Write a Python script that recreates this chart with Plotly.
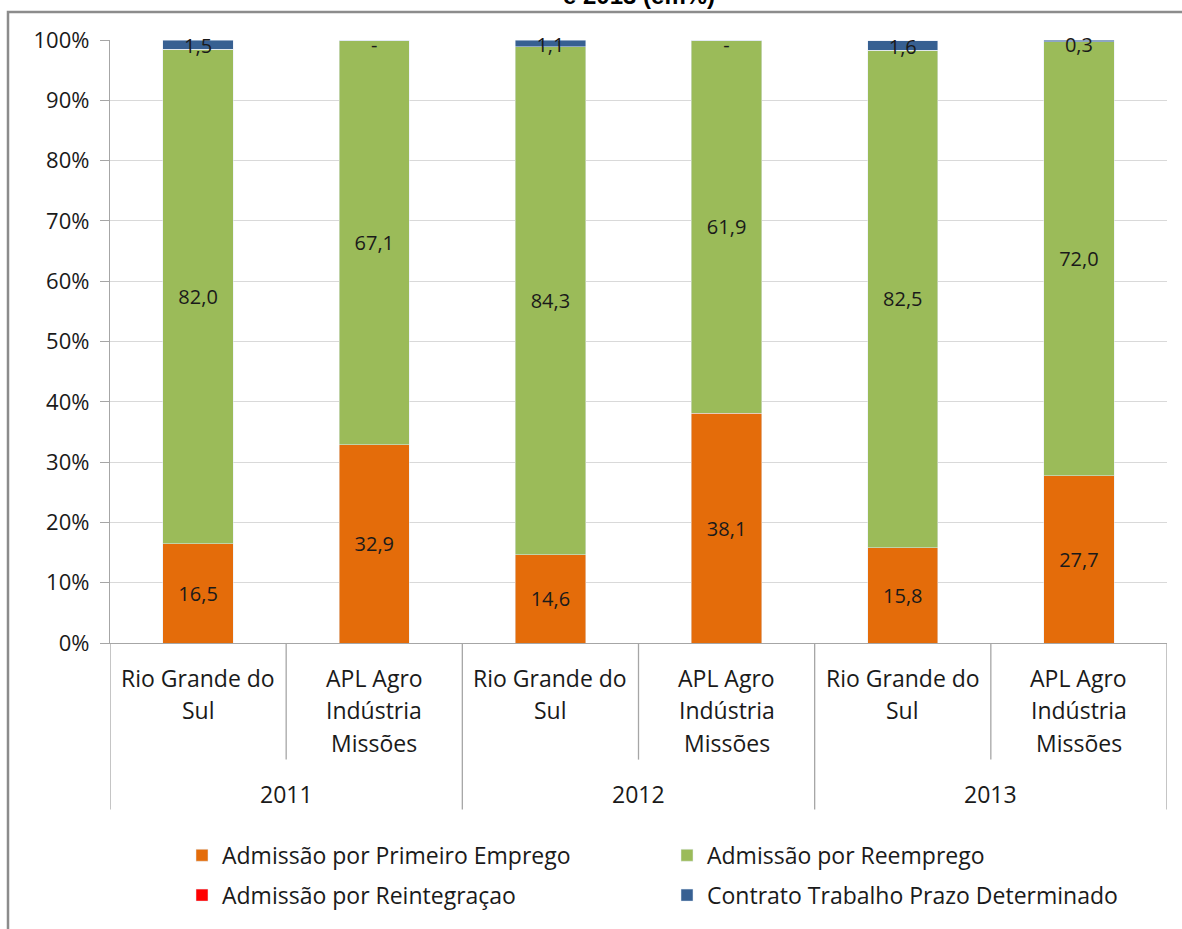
import plotly.graph_objects as go

# ---- data ----
years = ["2011", "2012", "2013"]
categories = ["Rio Grande do Sul", "APL Agro Indústria Missões"] * 3
cat_lines = [["Rio Grande do", "Sul"], ["APL Agro", "Indústria", "Missões"]] * 3
primeiro = [16.5, 32.9, 14.6, 38.1, 15.8, 27.7]
reemprego = [82.0, 67.1, 84.3, 61.9, 82.5, 72.0]
reintegracao = [0.0, 0.0, 0.0, 0.0, 0.0, 0.0]
contrato = [1.5, 0.0, 1.1, 0.0, 1.6, 0.3]
y_ticks = [0, 10, 20, 30, 40, 50, 60, 70, 80, 90, 100]
title_tail = "e 2013 (em%)"

C_OR = "#E46C0A"
C_GR = "#9BBB59"
C_RD = "#FF0000"
C_BL = "#376092"
FONT = "Open Sans"
TXT = "#1a1a1a"
GRID = "#d9d9d9"
AX = "#a6a6a6"

def fmt(v):
    return "-" if v == 0 else f"{v:.1f}".replace(".", ",")

x = list(range(len(categories)))
W, H = 1182, 929
L, R, T, B = 110, 15, 40, 284
plot_h = H - T - B
plot_w = W - L - R

def py(pix):  # pixel y -> paper y
    return (H - B - pix) / plot_h

def px(pix):
    return (pix - L) / plot_w

fig = go.Figure()
common = dict(x=x, width=0.4, textposition="inside", insidetextanchor="middle",
              textfont=dict(family=FONT, size=20, color=TXT), hoverinfo="skip")
fig.add_bar(y=primeiro, name="Admissão por Primeiro Emprego", marker_color=C_OR,
            text=[fmt(v) for v in primeiro], legend="legend", **common)
fig.add_bar(y=reemprego, name="Admissão por Reemprego", marker_color=C_GR,
            text=[fmt(v) for v in reemprego], legend="legend", **common)
fig.add_bar(y=reintegracao, name="Admissão por Reintegraçao", marker_color=C_RD,
            text=["" for v in reintegracao], legend="legend2", **common)
fig.add_bar(y=contrato, name="Contrato Trabalho Prazo Determinado", marker_color=C_BL,
            text=["" for v in contrato], legend="legend2", **common)

# labels for the thin top segments
tops = [p + r + i + c for p, r, i, c in zip(primeiro, reemprego, reintegracao, contrato)]
fig.add_scatter(x=x, y=[t - max(c, 1.0) / 2 - 0.6 for t, c in zip(tops, contrato)],
                mode="text", text=[fmt(v) for v in contrato],
                textfont=dict(family=FONT, size=20, color=TXT),
                showlegend=False, hoverinfo="skip", cliponaxis=False)

annotations = []
# category labels
for i, lines in enumerate(cat_lines):
    for j, ln in enumerate(lines):
        annotations.append(dict(x=i, y=py(680 + 32.5 * j), xref="x", yref="paper",
                                text=ln, showarrow=False, yanchor="middle",
                                font=dict(family=FONT, size=23, color=TXT)))
# year labels
for k, yr in enumerate(years):
    annotations.append(dict(x=2 * k + 0.5, y=py(797), xref="x", yref="paper",
                            text=yr, showarrow=False, yanchor="middle",
                            font=dict(family=FONT, size=23, color=TXT)))
# cut title (the reference shows only its lower part)
annotations.append(dict(x=0.5, xref="paper", y=py(-5), yref="paper", text="<b>" + title_tail + "</b>",
                        showarrow=False, yanchor="middle", xanchor="center",
                        font=dict(family="Liberation Sans", size=24, color="#000")))

shapes = []
for b in range(len(categories) + 1):
    bx = b - 0.5
    bottom = 812 if b % 2 == 0 else 762
    shapes.append(dict(type="line", xref="x", yref="paper", x0=bx, x1=bx,
                       y0=0, y1=py(bottom), line=dict(color=AX, width=1.3)))
# outer frame
shapes.append(dict(type="rect", xref="paper", yref="paper",
                   x0=px(8), x1=px(1200), y0=py(12), y1=py(960),
                   line=dict(color="#8c8c8c", width=2.5), fillcolor="rgba(0,0,0,0)"))

leg_common = dict(orientation="h", xanchor="left", yanchor="middle",
                  entrywidth=440, itemwidth=30, traceorder="normal",
                  bgcolor="rgba(0,0,0,0)", font=dict(family=FONT, size=23, color=TXT))

fig.update_layout(
    width=W, height=H, margin=dict(l=L, r=R, t=T, b=B),
    barmode="stack",
    paper_bgcolor="white", plot_bgcolor="white",
    font=dict(family=FONT, size=20, color=TXT),
    showlegend=True,
    legend=dict(x=px(182), y=py(858), **leg_common),
    legend2=dict(x=px(182), y=py(898), **leg_common),
    annotations=annotations, shapes=shapes,
)
fig.update_xaxes(range=[-0.5, len(categories) - 0.5], showticklabels=False, ticks="",
                 showgrid=False, zeroline=False, showline=True, linecolor=AX, linewidth=1.3)
fig.update_yaxes(range=[0, 100], tickvals=y_ticks, ticktext=[f"{v}%" for v in y_ticks],
                 showgrid=True, gridcolor=GRID, gridwidth=1, zeroline=False,
                 showline=True, linecolor=AX, linewidth=1.3, ticks="outside", ticklen=9,
                 ticklabelstandoff=6,
                 tickcolor=AX, tickfont=dict(family=FONT, size=22, color=TXT))
fig.write_html("out.html")
